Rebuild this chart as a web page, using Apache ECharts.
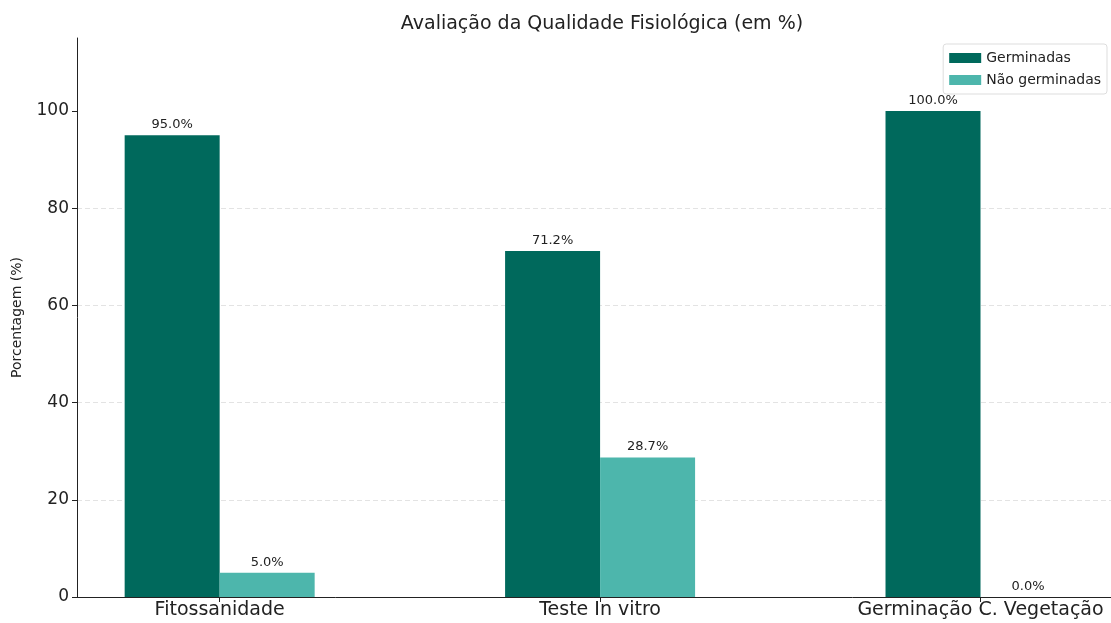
<!DOCTYPE html>
<html>
<head>
<meta charset="utf-8">
<script src="https://cdn.jsdelivr.net/npm/echarts@6/dist/echarts.min.js"></script>
<style>
  html, body { margin: 0; padding: 0; background: #fff; }
  #chart { width: 1111px; height: 623px; }
</style>
</head>
<body>
<div id="chart"></div>
<script>
// data
var categories = ['Fitossanidade', 'Teste In vitro', 'Germinação C. Vegetação'];
var germinadas = [95.0, 71.2, 100.0];
var naoGerminadas = [5.0, 28.7, 0.0];
var yTicks = [0, 20, 40, 60, 80, 100];

var font = '"DejaVu Sans", "Noto Sans", sans-serif';
var catIndex = categories.map(function (c, i) { return i; });

function pct(p) { return p.value[1].toFixed(1) + '%'; }

var chart = echarts.init(document.getElementById('chart'));
chart.setOption({
  animation: false,
  textStyle: { fontFamily: font },
  title: {
    text: 'Avaliação da Qualidade Fisiológica (em %)',
    left: 597, top: 10, textAlign: 'center',
    textStyle: { fontSize: 19, fontWeight: 'normal', color: '#222', fontFamily: font }
  },
  legend: {
    right: 4, top: 44, orient: 'vertical',
    itemWidth: 32, itemHeight: 10, itemGap: 8,
    padding: [7, 6, 7, 6],
    borderColor: '#ddd', borderWidth: 1, borderRadius: 3,
    icon: 'rect',
    textStyle: { fontSize: 14, color: '#222', fontFamily: font },
    data: ['Germinadas', 'Não germinadas']
  },
  grid: { left: 77, right: 0, top: 38, bottom: 26, containLabel: false },
  xAxis: {
    type: 'value',
    min: -0.375, max: 2.343,
    axisLine: { show: true, onZero: false, lineStyle: { color: '#222', width: 1 } },
    axisTick: { show: true, customValues: catIndex, length: 5, lineStyle: { color: '#222' } },
    axisLabel: {
      customValues: catIndex,
      formatter: function (v) { return categories[Math.round(v)]; },
      fontSize: 19, color: '#222', margin: 4, fontFamily: font
    },
    splitLine: { show: false }
  },
  yAxis: {
    type: 'value',
    min: 0, max: 115,
    name: 'Porcentagem (%)',
    nameLocation: 'middle', nameGap: 53, nameRotate: 90,
    nameTextStyle: { fontSize: 14, color: '#222', fontFamily: font },
    axisLine: { show: true, onZero: false, lineStyle: { color: '#222', width: 1 } },
    axisTick: { show: true, customValues: yTicks, length: 5, lineStyle: { color: '#222' } },
    axisLabel: { customValues: yTicks, fontSize: 17, color: '#222', margin: 8, fontFamily: font },
    splitLine: {
      show: true, showMaxLine: false, showMinLine: false,
      lineStyle: { type: [5, 3], color: '#e3e3e3', width: 1 }
    }
  },
  series: [
    {
      name: 'Germinadas', type: 'bar',
      data: germinadas.map(function (v, i) { return [i, v]; }),
      barWidth: 95, barGap: '0%',
      itemStyle: { color: '#00695c' },
      label: { show: true, position: 'top', distance: 4, formatter: pct, fontSize: 13, color: '#222', fontFamily: font }
    },
    {
      name: 'Não germinadas', type: 'bar',
      data: naoGerminadas.map(function (v, i) { return [i, v]; }),
      barWidth: 95, barGap: '0%',
      itemStyle: { color: '#4db6ac' },
      label: { show: true, position: 'top', distance: 4, formatter: pct, fontSize: 13, color: '#222', fontFamily: font }
    }
  ]
});
</script>
</body>
</html>
